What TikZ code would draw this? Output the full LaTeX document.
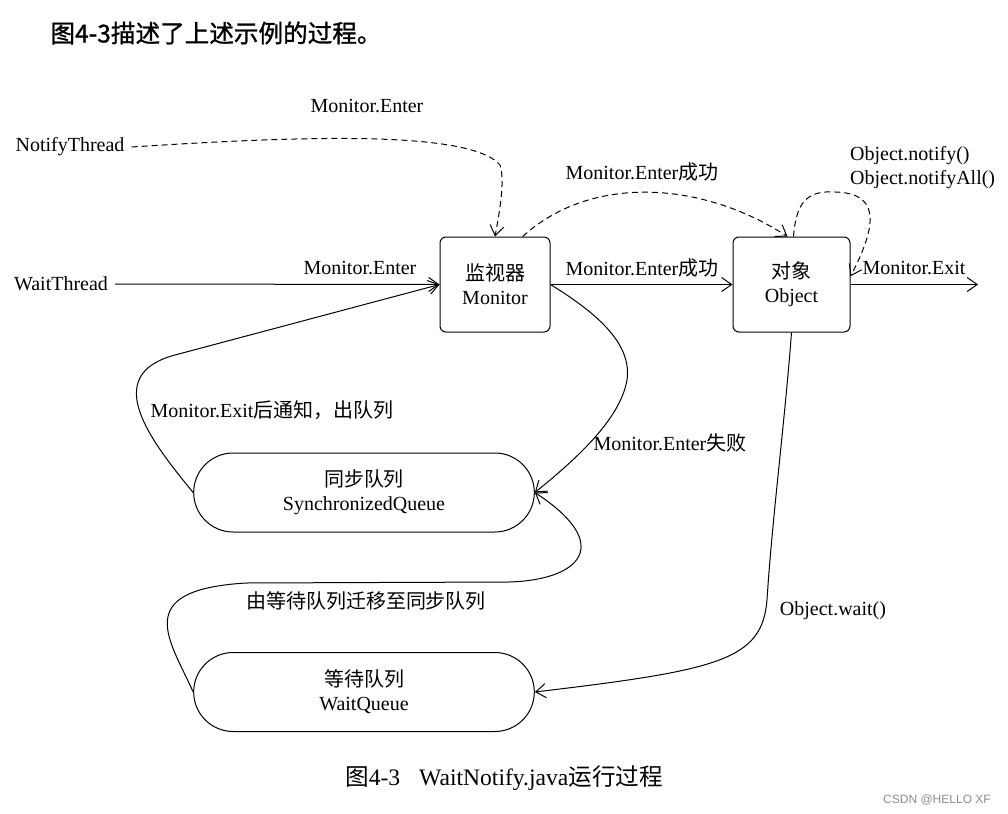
\documentclass[tikz,border=0pt]{standalone}
\usepackage{fontspec}
\setmainfont{Liberation Serif}
\setsansfont{Liberation Sans}
\newfontfamily\cjk{Noto Sans CJK SC}
\newfontfamily\cjkhead[FakeBold=1.2]{Noto Sans CJK SC}
\usepackage{tikz}
\usetikzlibrary{arrows.meta, shapes.misc}
\tikzset{box/.style={draw, rounded corners=3pt, minimum width=55pt, minimum height=47.5pt, align=center, font=\fontsize{10}{12}\selectfont}}
\tikzset{queue/.style={draw, rounded rectangle, minimum width=177pt, minimum height=39.5pt, align=center, font=\fontsize{10}{12}\selectfont}}
\tikzset{lbl/.style={font=\fontsize{10}{12}\selectfont}}
\tikzset{flow/.style={-{Straight Barb[length=5pt,width=7pt]}}}
\tikzset{notice/.style={flow, dash pattern=on 3pt off 2pt}}
\newcommand{\zh}[1]{{\cjk #1}}

\begin{document}
\begin{tikzpicture}[x=0.5pt, y=-0.5pt, line width=0.5pt]
\useasboundingbox (0,0) rectangle (1008,814);
\node[font=\cjkhead\fontsize{12.3}{14}\selectfont] (title) at (216,33) {图4-3描述了上述示例的过程。};
\node[lbl] (nt) at (70,147) {NotifyThread};
\node[lbl] (wt) at (61,284) {WaitThread};
\node[box] (mon) at (495,284.5) {\zh{监视器}\\Monitor};
\node[box, minimum width=58.5pt] (obj) at (791.5,284.5) {\zh{对象}\\Object};
\node[queue] (sq) at (364,492.5) {\zh{同步队列}\\SynchronizedQueue};
\node[queue] (wq) at (364,692) {\zh{等待队列}\\WaitQueue};
\coordinate (out) at (978,284.5);
\node[lbl] (lblnotify) at (367,106) {Monitor.Enter};
\node[lbl] (lblwait) at (360,268) {Monitor.Enter};
\node[lbl] (lblok) at (642,268) {Monitor.Enter\zh{成功}};
\node[lbl] (lbloktop) at (642,172) {Monitor.Enter\zh{成功}};
\node[lbl, anchor=west, align=left] (lblnotifyall) at (843,168) {Object.notify()\\Object.notifyAll()};
\node[lbl] (lblexit) at (914,268) {Monitor.Exit};
\node[lbl] (lblexitnotify) at (272,410) {Monitor.Exit\zh{后通知，出队列}};
\node[lbl] (lblfail) at (670,443) {Monitor.Enter\zh{失败}};
\node[lbl] (lblmove) at (366,601) {\zh{由等待队列迁移至同步队列}};
\node[lbl] (lblwaitcall) at (833,611) {Object.wait()};
\node[font=\fontsize{11.8}{14}\selectfont] (caption) at (504,778) {\zh{图}4-3\hspace{0.8em}WaitNotify.java\zh{运行过程}};
\node[font=\sffamily\fontsize{6}{7}\selectfont, text=black!45] (mark) at (937,800) {CSDN @HELLO XF};
\draw[notice] (nt.east) .. controls (300,136) and (470,130) .. (500,165) .. controls (505,180) and (500,210) .. (mon.north);
\draw[flow] (wt.east) -- (mon.west);
\draw[flow] (mon.east) -- (obj.west);
\draw[notice] (mon.60) .. controls (590,175) and (700,180) .. ([xshift=-2pt]obj.north);
\draw[notice] ([xshift=1pt]obj.north) .. controls (796,205) and (805,190) .. (835,192) .. controls (877,193) and (880,220) .. (obj.8);
\draw[flow] (obj.east) -- (out);
\draw[flow] (sq.west) .. controls (150,440) and (100,375) .. (175,355) -- (mon.west);
\draw[flow] (mon.east) .. controls (600,315) and (632,345) .. (627,380) .. controls (620,420) and (575,460) .. (sq.east);
\draw[flow] (wq.west) .. controls (170,640) and (130,590) .. (246,583) -- (509,582) .. controls (580,580) and (615,545) .. (sq.east);
\draw[flow] (obj.south) .. controls (785,420) and (772,520) .. (767,600) .. controls (762,660) and (720,670) .. (wq.east);
\end{tikzpicture}
\end{document}
